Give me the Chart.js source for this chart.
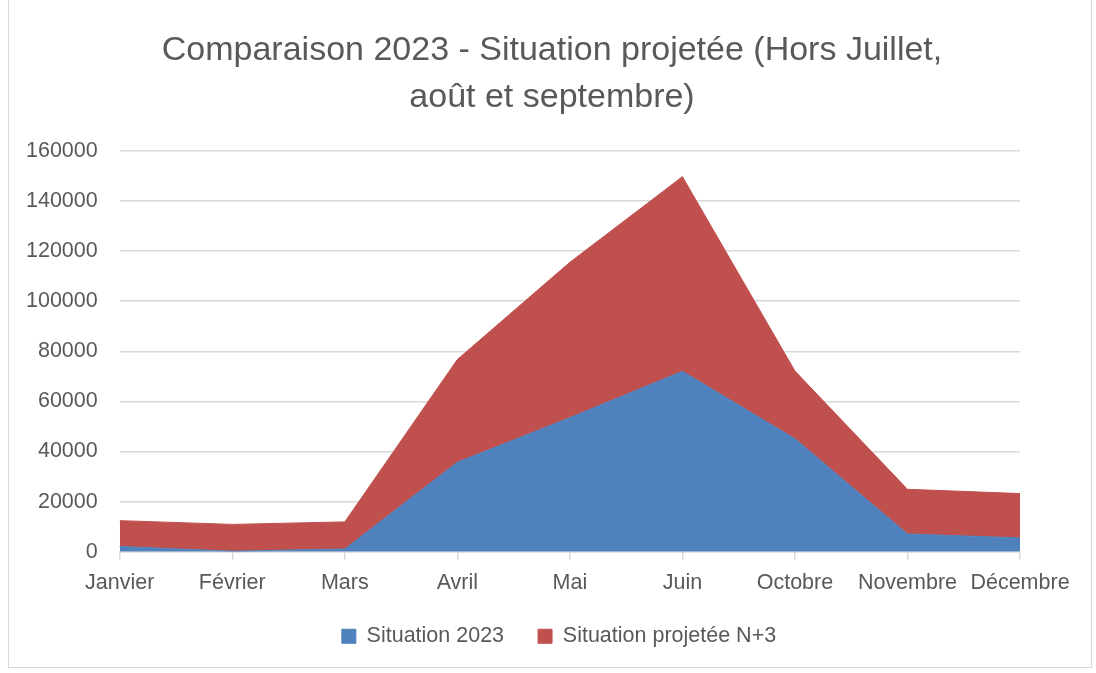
<!DOCTYPE html>
<html>
<head>
<meta charset="utf-8">
<script src="https://cdn.jsdelivr.net/npm/chart.js@4.4.1/dist/chart.umd.min.js"></script>
<style>
  html, body { margin: 0; padding: 0; background: #fff; }
  #wrap { width: 1096px; height: 673px; position: relative; }
</style>
</head>
<body>
<div id="wrap"><canvas id="myChart" width="1096" height="673"></canvas></div>
<script>
var mois = ["Janvier", "Février", "Mars", "Avril", "Mai", "Juin", "Octobre", "Novembre", "Décembre"];
var situation_2023 = [2100, 200, 1100, 35700, 53500, 72000, 45100, 7100, 5500];
var situation_n3 = [10300, 10700, 10800, 41000, 62000, 77700, 27000, 17800, 17700];
var titre = ["Comparaison 2023 - Situation projetée (Hors Juillet,", "août et septembre)"];

var police = "'Liberation Sans', 'DejaVu Sans', sans-serif";
var gris = "#595959";

// cadre gris clair autour du graphique + titre et légende centrés sur toute la largeur
var cadre = {
  id: 'cadre',
  afterLayout: function(chart) {
    if (chart.titleBlock) {
      chart.titleBlock.left = 8;
      chart.titleBlock.right = chart.width;
    }
    if (chart.legend) {
      chart.legend.left += 47;
      chart.legend.right += 47;
      if (chart.legend.adjustHitBoxes) chart.legend.adjustHitBoxes();
    }
  },
  beforeDraw: function(chart) {
    var ctx = chart.ctx;
    ctx.save();
    ctx.fillStyle = '#fff';
    ctx.fillRect(0, 0, chart.width, chart.height);
    ctx.strokeStyle = '#d9d9d9';
    ctx.lineWidth = 1;
    ctx.strokeRect(8.5, -2, chart.width - 13, chart.height - 3.5);
    ctx.restore();
  }
};

var canvas = document.getElementById("myChart");
var ctx = canvas.getContext("2d");
var chart = new Chart(ctx, {
  type: "line",
  data: {
    labels: mois,
    datasets: [{
      label: "Situation 2023",
      data: situation_2023,
      backgroundColor: "#4f81bd",
      borderColor: "#4f81bd",
      borderWidth: 1,
      fill: 'origin',
      pointRadius: 0,
      tension: 0
    }, {
      label: "Situation projetée N+3",
      data: situation_n3,
      backgroundColor: "#c0504d",
      borderColor: "#c0504d",
      borderWidth: 1,
      fill: '-1',
      pointRadius: 0,
      tension: 0
    }]
  },
  options: {
    responsive: false,
    animation: false,
    layout: { padding: { left: 4, right: 76, top: 27, bottom: 16 } },
    plugins: {
      title: {
        display: true,
        text: titre,
        color: gris,
        font: { family: police, size: 34, weight: 'normal', lineHeight: 1.38 },
        padding: { top: 0, bottom: 30 }
      },
      legend: {
        position: 'bottom',
        labels: {
          color: gris,
          font: { family: police, size: 21.5 },
          boxWidth: 14,
          boxHeight: 14,
          padding: 34
        }
      },
      tooltip: { enabled: false }
    },
    scales: {
      x: {
        offset: false,
        grid: { drawOnChartArea: false, drawTicks: true, tickLength: 8, color: '#d9d9d9', lineWidth: 1.5 },
        border: { color: '#d9d9d9', width: 1.5 },
        ticks: { color: gris, font: { family: police, size: 21.5 }, padding: 10, maxRotation: 0, autoSkip: false },
        afterFit: function(scale) { scale.height -= 14; }
      },
      y: {
        stacked: true,
        min: 0,
        max: 160000,
        grid: { color: '#d9d9d9', lineWidth: 1.5, drawTicks: false },
        border: { display: false },
        ticks: {
          stepSize: 20000, color: gris, font: { family: police, size: 21.5 }, padding: 22,
          callback: function(v) { return String(v); }
        }
      }
    }
  },
  plugins: [cadre]
});
</script>
</body>
</html>
